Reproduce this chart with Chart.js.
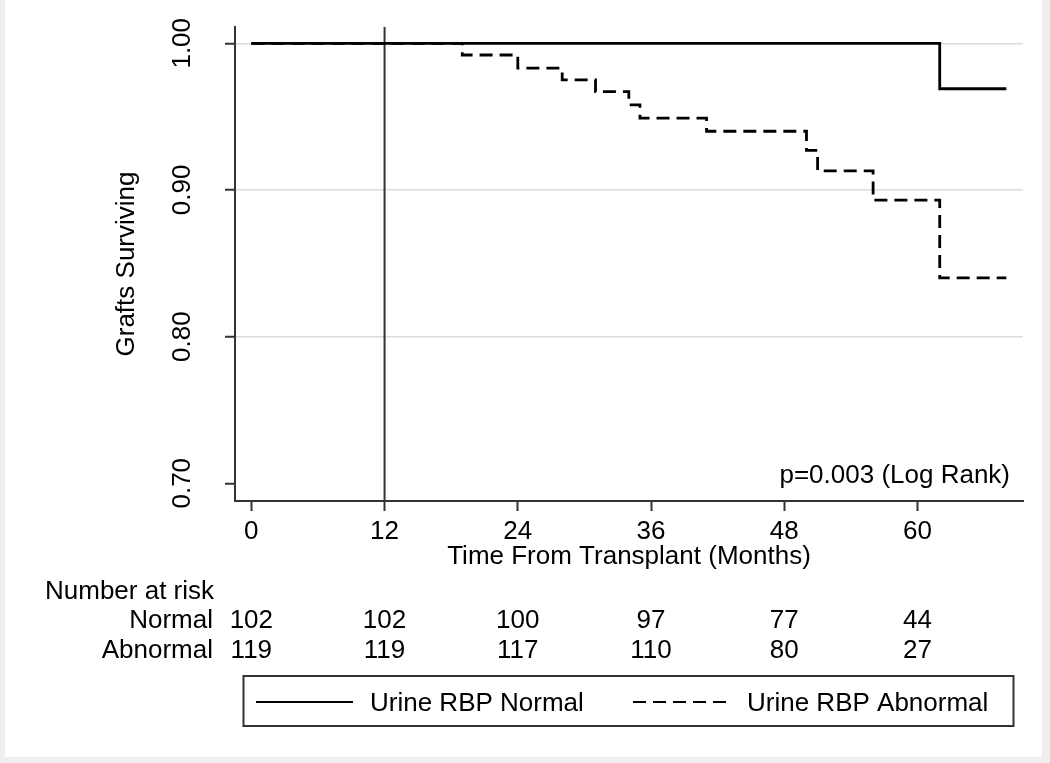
<!DOCTYPE html>
<html>
<head>
<meta charset="utf-8">
<script src="https://cdn.jsdelivr.net/npm/chart.js@4/dist/chart.umd.min.js"></script>
<style>
  html, body { margin: 0; padding: 0; background: #fff; }
  canvas { display: block; }
</style>
</head>
<body>
<canvas id="kmChart" width="1050" height="763"></canvas>
<script>
// Kaplan-Meier curves (months, survival proportion)
const normalTimes = [0, 62, 68];
const normalSurv = [1.0, 0.969, 0.969];
const abnormalTimes = [0, 19, 24, 28, 31, 34, 35, 41, 50, 51, 56, 62, 68];
const abnormalSurv = [1.0, 0.992, 0.983, 0.975, 0.967, 0.958, 0.949, 0.940, 0.927, 0.913, 0.893, 0.840, 0.840];

// axes
const xTicks = [0, 12, 24, 36, 48, 60];
const yTicks = [0.70, 0.80, 0.90, 1.00];
const yTickLabels = ['0.70', '0.80', '0.90', '1.00'];
const landmarkMonth = 12;

// number at risk table
const riskTimes = [0, 12, 24, 36, 48, 60];
const riskGroups = ['Normal', 'Abnormal'];
const normalAtRisk = [102, 102, 100, 97, 77, 44];
const abnormalAtRisk = [119, 119, 117, 110, 80, 27];

const seriesNames = ['Urine RBP Normal', 'Urine RBP Abnormal'];
const pValueText = 'p=0.003 (Log Rank)';

const X_MIN = -1.47, X_MAX = 69.5;
const Y_MIN = 0.6879, Y_MAX = 1.0111;
const FONT = '26px "Liberation Sans", Arial, Helvetica, sans-serif';
const AXIS_COLOR = '#333';

function toPoints(xs, ys) {
  return xs.map((x, i) => ({ x: x, y: ys[i] }));
}

// texts, risk table, legend box and the grey frame
const overlay = {
  id: 'overlay',
  beforeDraw(chart) {
    const c = chart.ctx;
    c.save();
    c.fillStyle = '#efefef';
    c.fillRect(0, 0, chart.width, chart.height);
    c.fillStyle = '#fff';
    c.fillRect(5, 0, 1037, 757);
    c.restore();
  },
  afterDraw(chart) {
    const c = chart.ctx;
    const xs = chart.scales.x, ys = chart.scales.y;
    c.save();
    c.fillStyle = '#000';
    c.font = FONT;

    // y tick labels, rotated
    yTicks.forEach((v, i) => {
      c.save();
      c.translate(190, ys.getPixelForValue(v));
      c.rotate(-Math.PI / 2);
      c.textAlign = 'center';
      c.textBaseline = 'alphabetic';
      c.fillText(yTickLabels[i], 0, 0);
      c.restore();
    });

    // y title
    c.save();
    c.translate(134, (ys.top + ys.bottom) / 2);
    c.rotate(-Math.PI / 2);
    c.textAlign = 'center';
    c.textBaseline = 'alphabetic';
    c.fillText('Grafts Surviving', 0, 0);
    c.restore();

    // log rank p
    c.textAlign = 'right';
    c.textBaseline = 'alphabetic';
    c.fillText(pValueText, 1010, 483);

    // number at risk
    c.textAlign = 'left';
    c.fillText('Number at risk', 45, 599);
    const rows = [normalAtRisk, abnormalAtRisk];
    const rowY = [628, 658];
    rows.forEach((vals, r) => {
      c.textAlign = 'right';
      c.fillText(riskGroups[r], 213, rowY[r]);
      c.textAlign = 'center';
      vals.forEach((n, i) => {
        c.fillText(String(n), xs.getPixelForValue(riskTimes[i]), rowY[r]);
      });
    });

    // legend
    c.strokeStyle = AXIS_COLOR;
    c.lineWidth = 2;
    c.strokeRect(243.5, 676, 770, 50);
    const ds = chart.data.datasets;
    const items = [
      { x1: 256, x2: 353, tx: 370, d: ds[0] },
      { x1: 633, x2: 732, tx: 747, d: ds[1] }
    ];
    items.forEach((it, i) => {
      c.beginPath();
      c.setLineDash(it.d.borderDash || []);
      c.strokeStyle = '#000';
      c.lineWidth = 2;
      c.moveTo(it.x1, 702);
      c.lineTo(it.x2, 702);
      c.stroke();
      c.setLineDash([]);
      c.textAlign = 'left';
      c.fillText(seriesNames[i], it.tx, 711);
    });
    c.restore();
  }
};

Chart.defaults.font.family = '"Liberation Sans", Arial, Helvetica, sans-serif';
Chart.defaults.font.size = 26;
Chart.defaults.color = '#000';

new Chart(document.getElementById('kmChart'), {
  type: 'line',
  data: {
    datasets: [
      {
        label: seriesNames[0],
        data: toPoints(normalTimes, normalSurv),
        borderColor: '#000',
        borderWidth: 2.8,
        stepped: true,
        pointRadius: 0
      },
      {
        label: seriesNames[1],
        data: toPoints(abnormalTimes, abnormalSurv),
        borderColor: '#000',
        borderWidth: 2.8,
        borderDash: [13, 7],
        stepped: true,
        pointRadius: 0
      },
      {
        label: 'landmark',
        data: toPoints([landmarkMonth, landmarkMonth], [Y_MIN, Y_MAX]),
        borderColor: AXIS_COLOR,
        borderWidth: 2,
        pointRadius: 0
      }
    ]
  },
  options: {
    responsive: false,
    animation: false,
    events: [],
    layout: { padding: { left: 0, right: 27, top: 27, bottom: 187 } },
    plugins: {
      legend: { display: false },
      tooltip: { enabled: false }
    },
    scales: {
      x: {
        type: 'linear',
        min: X_MIN,
        max: X_MAX,
        afterBuildTicks: s => { s.ticks = xTicks.map(v => ({ value: v })); },
        afterFit: s => { s.height = 75; },
        ticks: { padding: 5, maxRotation: 0, autoSkip: false },
        grid: {
          drawOnChartArea: false,
          drawTicks: true,
          tickLength: 10,
          tickColor: AXIS_COLOR,
          tickWidth: 2
        },
        border: { color: AXIS_COLOR, width: 2 },
        title: {
          display: true,
          text: 'Time From Transplant (Months)',
          padding: { top: 0, bottom: 4 }
        }
      },
      y: {
        type: 'linear',
        min: Y_MIN,
        max: Y_MAX,
        afterBuildTicks: s => { s.ticks = yTicks.map(v => ({ value: v })); },
        afterFit: s => { s.width = 235; },
        ticks: { display: false },
        grid: {
          color: ctx => (ctx.tick && ctx.tick.value < 0.75 ? 'rgba(0,0,0,0)' : '#dcdcdc'),
          lineWidth: 1.5,
          drawTicks: true,
          tickLength: 10,
          tickColor: AXIS_COLOR,
          tickWidth: 2
        },
        border: { color: AXIS_COLOR, width: 2 }
      }
    }
  },
  plugins: [overlay]
});
</script>
</body>
</html>
